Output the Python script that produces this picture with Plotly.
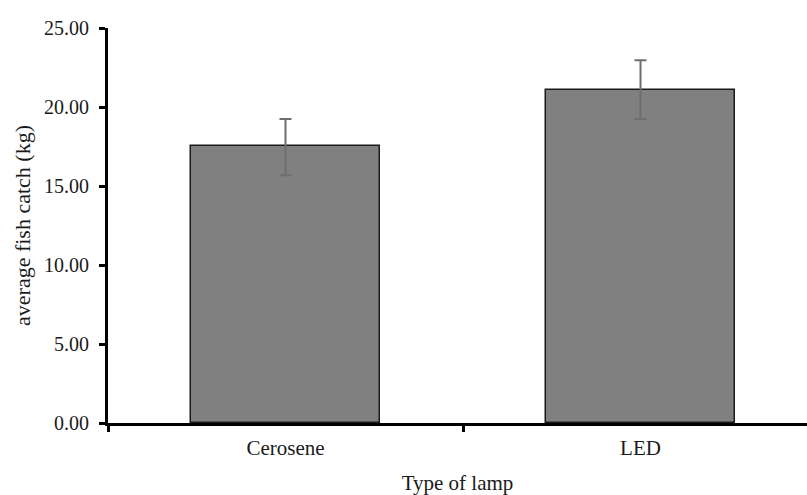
import plotly.graph_objects as go

categories = ["Cerosene", "LED"]
values = [17.52, 21.08]
errors_plus = [1.72, 1.88]
errors_minus = [1.84, 1.84]
y_ticks = [0, 5, 10, 15, 20, 25]

fig = go.Figure()
fig.add_trace(go.Bar(
    x=categories,
    y=values,
    width=0.532,
    marker=dict(color="#808080", line=dict(color="#1a1a1a", width=1.5)),
    error_y=dict(type="data", symmetric=False, array=errors_plus, arrayminus=errors_minus,
                 color="#6e6e6e", thickness=2, width=6),
))

font = "Liberation Serif, Times New Roman, serif"
fig.update_layout(
    width=807, height=495,
    margin=dict(l=108, r=0, t=28, b=72),
    paper_bgcolor="white", plot_bgcolor="white",
    font=dict(family=font, size=20, color="#1a1a1a"),
    showlegend=False,
    bargap=0,
    xaxis=dict(
        type="category",
        range=[-0.5, 1.469],
        showline=True, linecolor="black", linewidth=3,
        ticks="outside", tickson="boundaries", ticklen=6, tickwidth=3, tickcolor="black",
        showgrid=False, zeroline=False,
        tickfont=dict(family=font, size=21),
        ticklabelstandoff=4,
        title=dict(text="Type of lamp", font=dict(family=font, size=21), standoff=17),
    ),
    yaxis=dict(
        range=[0, 25],
        tickvals=y_ticks,
        tickformat=".2f",
        showline=True, linecolor="black", linewidth=3,
        ticks="outside", ticklen=6, tickwidth=3, tickcolor="black",
        showgrid=False, zeroline=False,
        tickfont=dict(family=font, size=20),
        ticklabelstandoff=6,
        title=dict(text="average fish catch (kg)", font=dict(family=font, size=22), standoff=8),
    ),
)

fig.write_html("out.html")
